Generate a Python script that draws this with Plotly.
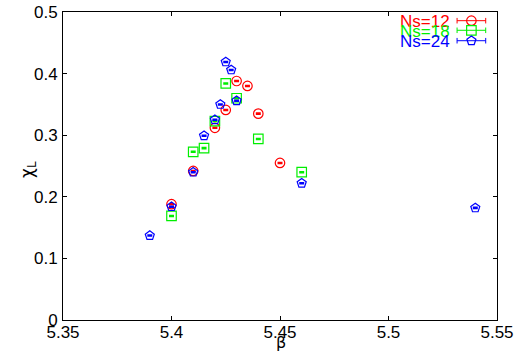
import plotly.graph_objects as go

# ---- data ----
beta_12 = [5.40, 5.41, 5.42, 5.425, 5.43, 5.435, 5.44, 5.45]
chi_12 = [0.188, 0.242, 0.312, 0.341, 0.388, 0.380, 0.335, 0.255]
err_12 = [0.001, 0.001, 0.001, 0.001, 0.001, 0.001, 0.001, 0.001]

beta_18 = [5.40, 5.41, 5.415, 5.42, 5.425, 5.43, 5.44, 5.46]
chi_18 = [0.169, 0.273, 0.279, 0.323, 0.384, 0.360, 0.294, 0.240]
err_18 = [0.001, 0.001, 0.001, 0.001, 0.001, 0.001, 0.001, 0.001]

beta_24 = [5.39, 5.40, 5.41, 5.415, 5.42, 5.4225, 5.425, 5.4275, 5.43, 5.46, 5.54]
chi_24 = [0.137, 0.184, 0.240, 0.299, 0.325, 0.350, 0.419, 0.406, 0.356, 0.222, 0.182]
err_24 = [0.001, 0.001, 0.001, 0.001, 0.001, 0.001, 0.001, 0.001, 0.001, 0.001, 0.001]

series_names = ["Ns=12", "Ns=18", "Ns=24"]
series_colors = ["#ff0000", "#00ee00", "#0000ff"]
series_symbols = ["circle-open", "square-open", "pentagon-open"]

x_ticks = [5.35, 5.40, 5.45, 5.50, 5.55]
x_ticktext = ["5.35", "5.4", "5.45", "5.5", "5.55"]
y_ticks = [0, 0.1, 0.2, 0.3, 0.4, 0.5]
y_ticktext = ["0", "0.1", "0.2", "0.3", "0.4", "0.5"]

FONT = "Liberation Sans, Arial, sans-serif"

fig = go.Figure()
data = [(beta_12, chi_12, err_12), (beta_18, chi_18, err_18), (beta_24, chi_24, err_24)]
for (xs, ys, es), name, col, sym in zip(data, series_names, series_colors, series_symbols):
    fig.add_trace(go.Scatter(
        x=xs, y=ys, mode="markers", name=name, showlegend=False,
        marker=dict(symbol=sym, size=9.5, color=col, line=dict(width=1.2, color=col)),
        error_y=dict(type="data", array=es, visible=True, color=col, thickness=1.3, width=2.5),
    ))

# custom legend (text left of sample, like gnuplot)
leg_text_y = [0.970, 0.938, 0.903]
leg_line_y = [0.9718, 0.9406, 0.9068]
lx0, lx1, lxm = 0.908, 0.974, 0.941
annotations = []
shapes = []
for name, col, sym, ty, ly in zip(series_names, series_colors, series_symbols, leg_text_y, leg_line_y):
    annotations.append(dict(text=name, xref="paper", yref="paper", x=0.895, y=ty,
                            xanchor="right", yanchor="middle", showarrow=False, borderpad=0,
                            font=dict(family=FONT, size=17, color=col)))
    shapes.append(dict(type="line", xref="paper", yref="paper", x0=lx0, x1=lx1, y0=ly, y1=ly,
                       line=dict(color=col, width=1)))
    for xx in (lx0, lx1):
        shapes.append(dict(type="line", xref="paper", yref="paper", x0=xx, x1=xx,
                           y0=ly - 0.009, y1=ly + 0.009, line=dict(color=col, width=1)))
    fig.add_trace(go.Scatter(x=[lxm], y=[ly], xaxis="x2", yaxis="y2", mode="markers",
                             showlegend=False, hoverinfo="skip",
                             marker=dict(symbol=sym, size=9.5, color=col, line=dict(width=1.2, color=col))))

annotations.append(dict(text="χ<sub>L</sub>", xref="paper", yref="paper", x=-0.081, y=0.49,
                        xanchor="center", yanchor="middle", textangle=-90, showarrow=False,
                        font=dict(family="DejaVu Sans, sans-serif", size=17, color="black")))
annotations.append(dict(text="β", xref="paper", yref="paper", x=0.502, y=-0.073,
                        xanchor="center", yanchor="middle", showarrow=False,
                        font=dict(family="DejaVu Sans, sans-serif", size=16, color="black")))

axis_common = dict(showgrid=False, zeroline=False, showline=True, linecolor="black", linewidth=1,
                   mirror="allticks", ticks="inside", ticklen=4, tickcolor="black",
                   automargin=False, ticklabeloverflow="allow",
                   tickfont=dict(family=FONT, size=17, color="black"))

fig.update_layout(
    width=514, height=364,
    margin=dict(l=63, r=17, t=12, b=44),
    paper_bgcolor="white", plot_bgcolor="white",
    showlegend=False,
    xaxis=dict(range=[5.35, 5.55], tickvals=x_ticks, ticktext=x_ticktext,
               ticklabelstandoff=-3, **axis_common),
    yaxis=dict(range=[0, 0.5], tickvals=y_ticks, ticktext=y_ticktext, ticklabelstandoff=1, **axis_common),
    xaxis2=dict(range=[0, 1], overlaying="x", visible=False, fixedrange=True),
    yaxis2=dict(range=[0, 1], overlaying="y", visible=False, fixedrange=True),
    annotations=annotations,
    shapes=shapes,
)

# remove the default 8px page margin so the figure fills the window exactly
fig.write_html("out.html", config={"displayModeBar": False},
               post_script="document.body.style.margin='0';document.body.style.overflow='hidden';")
